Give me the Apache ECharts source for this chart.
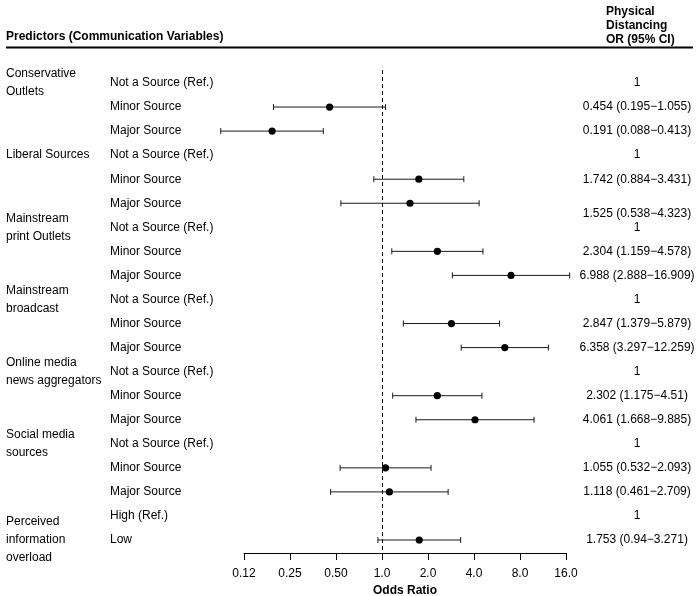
<!DOCTYPE html>
<html>
<head>
<meta charset="utf-8">
<script src="https://cdn.jsdelivr.net/npm/echarts@6/dist/echarts.min.js"></script>
<style>html,body{margin:0;padding:0;background:#fff}#c{width:700px;height:596px}</style>
</head>
<body>
<div id="c"></div>
<script>
// ---- data ----
const groupLabels = ["Conservative\nOutlets", "Liberal Sources", "Mainstream\nprint Outlets", "Mainstream\nbroadcast", "Online media\nnews aggregators", "Social media\nsources", "Perceived\ninformation\noverload"];
const groupRows = [0, 3, 6, 9, 12, 15, 19];
const rowLabels = ["Not a Source (Ref.)", "Minor Source", "Major Source",
  "Not a Source (Ref.)", "Minor Source", "Major Source",
  "Not a Source (Ref.)", "Minor Source", "Major Source",
  "Not a Source (Ref.)", "Minor Source", "Major Source",
  "Not a Source (Ref.)", "Minor Source", "Major Source",
  "Not a Source (Ref.)", "Minor Source", "Major Source",
  "High (Ref.)", "Low"];
const oddsRatio = [null, 0.454, 0.191, null, 1.742, 1.525, null, 2.304, 6.988, null, 2.847, 6.358, null, 2.302, 4.061, null, 1.055, 1.118, null, 1.753];
const ciLow = [null, 0.195, 0.088, null, 0.884, 0.538, null, 1.159, 2.888, null, 1.379, 3.297, null, 1.175, 1.668, null, 0.532, 0.461, null, 0.94];
const ciHigh = [null, 1.055, 0.413, null, 3.431, 4.323, null, 4.578, 16.909, null, 5.879, 12.259, null, 4.51, 9.885, null, 2.093, 2.709, null, 3.271];
const orTexts = ["1", "0.454 (0.195\u22121.055)", "0.191 (0.088\u22120.413)",
  "1", "1.742 (0.884\u22123.431)", "1.525 (0.538\u22124.323)",
  "1", "2.304 (1.159\u22124.578)", "6.988 (2.888\u221216.909)",
  "1", "2.847 (1.379\u22125.879)", "6.358 (3.297\u221212.259)",
  "1", "2.302 (1.175\u22124.51)", "4.061 (1.668\u22129.885)",
  "1", "1.055 (0.532\u22122.093)", "1.118 (0.461\u22122.709)",
  "1", "1.753 (0.94\u22123.271)"];
const tickLabels = ["0.12", "0.25", "0.50", "1.0", "2.0", "4.0", "8.0", "16.0"];
const headerLeft = "Predictors (Communication Variables)";
const headerRight = "Physical\nDistancing\nOR (95% CI)";
const axisTitle = "Odds Ratio";

// ---- chart ----
const FONT = "'Liberation Sans', Arial, sans-serif";
const chart = echarts.init(document.getElementById('c'), null, {renderer: 'canvas', width: 700, height: 596});

const ciData = [];
oddsRatio.forEach((v, i) => { if (v != null) ciData.push([i, ciLow[i], ciHigh[i], v]); });
const textData = rowLabels.map((_, i) => [i]);
const groupData = groupRows.map((r, i) => [r, i]);
const textNudge = {5: 10};

const option = {
  animation: false,
  backgroundColor: '#fff',
  grid: {left: 244, width: 322, top: 70, height: 483, outerBoundsMode: 'none', containLabel: false},
  xAxis: {
    type: 'log', logBase: 2, min: 0.125, max: 16, interval: 1, position: 'bottom',
    name: axisTitle, nameLocation: 'middle', nameGap: 30,
    nameTextStyle: {fontFamily: FONT, fontSize: 12, fontWeight: 'bold', color: '#000'},
    axisLine: {show: true, onZero: false, lineStyle: {color: '#000', width: 1}},
    axisTick: {show: true, length: 7, lineStyle: {color: '#000'}},
    minorTick: {show: false},
    splitLine: {show: false},
    axisLabel: {
      fontFamily: FONT, fontSize: 12, color: '#000', margin: 15,
      formatter: v => tickLabels[Math.round(Math.log2(v)) + 3]
    }
  },
  yAxis: {type: 'value', inverse: true, min: -0.54, max: 19.54, show: false},
  series: [
    {
      type: 'custom', clip: false,
      data: ciData,
      encode: {x: [1, 2, 3], y: 0},
      renderItem: (params, api) => {
        const r = api.value(0);
        const a = api.coord([api.value(1), r]);
        const b = api.coord([api.value(2), r]);
        const p = api.coord([api.value(3), r]);
        const st = {stroke: '#1a1a1a', lineWidth: 1};
        return {type: 'group', children: [
          {type: 'line', shape: {x1: a[0], y1: a[1], x2: b[0], y2: b[1]}, style: st},
          {type: 'line', shape: {x1: a[0], y1: a[1] - 3, x2: a[0], y2: a[1] + 3}, style: st},
          {type: 'line', shape: {x1: b[0], y1: b[1] - 3, x2: b[0], y2: b[1] + 3}, style: st},
          {type: 'circle', shape: {cx: p[0], cy: p[1], r: 3.6}, style: {fill: '#000'}}
        ]};
      },
      markLine: {
        silent: true, symbol: 'none', label: {show: false},
        lineStyle: {color: '#000', type: [4, 3], width: 1},
        data: [{xAxis: 1}]
      }
    },
    {
      type: 'custom', clip: false, silent: true,
      data: textData,
      encode: {y: 0},
      renderItem: (params, api) => {
        const i = api.value(0);
        const y = api.coord([1, i])[1];
        return {type: 'group', children: [
          {type: 'text', x: 110, y: y, style: {text: rowLabels[i], font: '12px ' + FONT, fill: '#000', textAlign: 'left', textVerticalAlign: 'middle'}},
          {type: 'text', x: 637, y: y + (textNudge[i] || 0), style: {text: orTexts[i], font: '12px ' + FONT, fill: '#000', textAlign: 'center', textVerticalAlign: 'middle'}}
        ]};
      }
    },
    {
      type: 'custom', clip: false, silent: true,
      data: groupData,
      encode: {y: 0},
      renderItem: (params, api) => {
        const r = api.value(0);
        const i = api.value(1);
        const y = api.coord([1, r])[1];
        return {type: 'text', x: 6, y: y, style: {text: groupLabels[i], font: '12px ' + FONT, fill: '#000', textAlign: 'left', textVerticalAlign: 'middle', lineHeight: 18}};
      }
    }
  ],
  graphic: [
    {type: 'text', left: 6, top: 31, style: {text: headerLeft, font: 'bold 12px ' + FONT, fill: '#000'}},
    {type: 'text', left: 606, top: 5, style: {text: headerRight, font: 'bold 12px ' + FONT, fill: '#000', lineHeight: 14}},
    {type: 'line', shape: {x1: 6, y1: 47.5, x2: 693, y2: 47.5}, style: {stroke: '#000', lineWidth: 2}}
  ]
};
chart.setOption(option);
</script>
</body>
</html>
